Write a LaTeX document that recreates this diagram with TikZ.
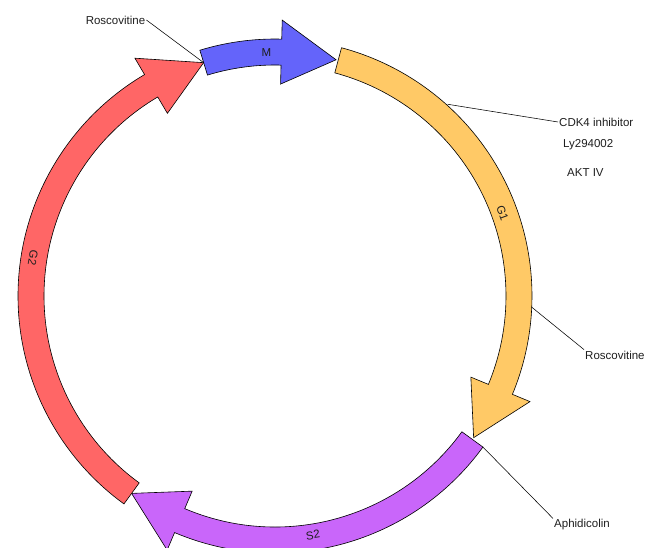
\documentclass[tikz,border=0pt]{standalone}
\usepackage{fontspec}
\setmainfont{Liberation Sans}
\usepackage{tikz}
\usetikzlibrary{calc}
\definecolor{phaseM}{HTML}{6464FA}
\definecolor{phaseGone}{HTML}{FFC966}
\definecolor{phaseS}{HTML}{C966FA}
\definecolor{phaseGtwo}{HTML}{FF6666}
\definecolor{ink}{HTML}{1E1E1E}
\tikzset{
  phase/.style={draw=black, line width=0.6pt, line join=miter},
  lead/.style={draw=black, line width=0.55pt},
  drug/.style={text=ink, font=\fontsize{11.5}{13}\selectfont, inner sep=1pt},
  tag/.style={text=ink, font=\fontsize{11.5}{13}\selectfont, inner sep=0pt}
}

\begin{document}
\begin{tikzpicture}[x=1pt,y=1pt]
  \useasboundingbox (0,0) rectangle (654,547);
  \clip (0,0) rectangle (654,547);

  \begin{scope}[shift={(275,251)}]
    % band: r 231..257, heads 212..276
    \draw[phase, fill=phaseGone] (75:257) arc[start angle=75, end angle=-22.5, radius=257]
      -- (-22.5:276) -- (-35.5:244) -- (-22.5:212) -- (-22.5:231)
      arc[start angle=-22.5, end angle=75, radius=231] -- cycle;
    \draw[phase, fill=phaseS] (-36:257) arc[start angle=-36, end angle=-113, radius=257]
      -- (-113:276) -- (-126:244) -- (-113:212) -- (-113:231)
      arc[start angle=-113, end angle=-36, radius=231] -- cycle;
    \draw[phase, fill=phaseGtwo] (234:257) arc[start angle=234, end angle=120.5, radius=257]
      -- (120.5:276) -- (107:244) -- (120.5:212) -- (120.5:231)
      arc[start angle=120.5, end angle=234, radius=231] -- cycle;
    \draw[phase, fill=phaseM] (107:257) arc[start angle=107, end angle=88.5, radius=257]
      -- (88.5:276) -- (75.5:244) -- (88.5:212) -- (88.5:231)
      arc[start angle=88.5, end angle=107, radius=231] -- cycle;

    \coordinate (mtail) at (107:244);
    \coordinate (gonetop) at (48:258);
    \coordinate (gonemid) at (-2.5:257);
    \coordinate (stail) at (-36:257);

    \node[tag] (mlab) at (92:244) {M};
    \node[tag, rotate=-70] (gonelab) at (20:242) {G1};
    \node[tag, rotate=9] (slab) at (-81:242) {S2};
    \node[tag, rotate=-100] (gtwolab) at (171:245) {G2};
  \end{scope}

  \node[drug] (rosa) at (115.5,527) {Roscovitine};
  \node[drug, anchor=west] (cdk) at (558,425) {CDK4 inhibitor};
  \node[drug, anchor=west] (ly) at (562,402) {Ly294002};
  \node[drug, anchor=west] (akt) at (566,374) {AKT IV};
  \node[drug, anchor=west] (rosb) at (584,192) {Roscovitine};
  \node[drug, anchor=west] (aphi) at (553,22) {Aphidicolin};

  \draw[lead] (rosa.east) -- (mtail);
  \draw[lead] (cdk.west) -- (gonetop);
  \draw[lead] (rosb.north west) -- (gonemid);
  \draw[lead] (aphi.north west) -- (stail);
\end{tikzpicture}
\end{document}
